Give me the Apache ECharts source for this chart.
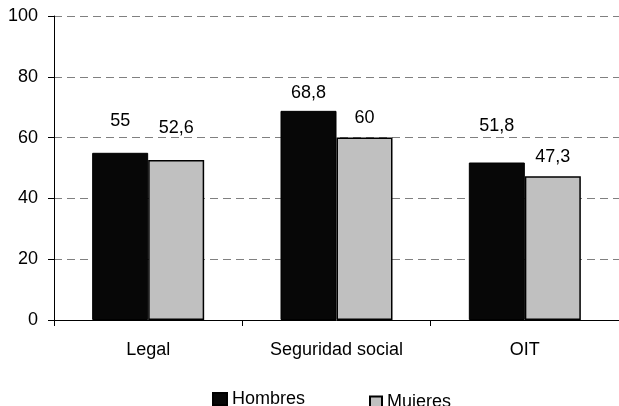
<!DOCTYPE html>
<html>
<head>
<meta charset="utf-8">
<script src="https://cdn.jsdelivr.net/npm/echarts@6/dist/echarts.min.js"></script>
<style>
html,body{margin:0;padding:0;background:#fff;}
#chart{width:619px;height:406px;}
</style>
</head>
<body>
<div id="chart"></div>
<script>
const categories = ['Legal', 'Seguridad social', 'OIT'];
const hombres = [55, 68.8, 51.8];
const mujeres = [52.6, 60, 47.3];
const yTicks = [0, 20, 40, 60, 80, 100];
const seriesNames = ['Hombres', 'Mujeres'];

const hombresLabelGap = [23, 9, 27];
const mujeresLabelGap = [23, 11, 10];

const fmt = v => String(v).replace('.', ',');
const FONT = 'Liberation Sans, Arial, sans-serif';
const FS = 18;

function build(values, gaps) {
  return values.map((v, i) => ({
    value: v,
    label: { distance: gaps[i] }
  }));
}

const chart = echarts.init(document.getElementById('chart'));
chart.setOption({
  animation: false,
  backgroundColor: '#ffffff',
  grid: { left: 54, right: -4, top: 16, bottom: 86, containLabel: false },
  legend: [
    {
      data: [seriesNames[0]],
      left: 212, top: 390, padding: 0,
      itemWidth: 14, itemHeight: 12,
      textStyle: { fontFamily: FONT, fontSize: FS, color: '#000' },
      icon: 'rect'
    },
    {
      data: [seriesNames[1]],
      left: 369, top: 393, padding: 0,
      itemWidth: 12, itemHeight: 11,
      textStyle: { fontFamily: FONT, fontSize: FS, color: '#000' },
      icon: 'rect'
    }
  ],
  xAxis: {
    type: 'category',
    data: categories,
    axisLine: { lineStyle: { color: '#000', width: 1 } },
    axisTick: { show: true, length: 6, lineStyle: { color: '#000' } },
    axisLabel: { margin: 21, fontFamily: FONT, fontSize: FS, color: '#000' },
    splitLine: { show: false }
  },
  yAxis: {
    type: 'value',
    min: yTicks[0], max: yTicks[yTicks.length - 1], interval: yTicks[1] - yTicks[0],
    axisLine: { show: true, lineStyle: { color: '#000', width: 1 } },
    axisTick: { show: true, length: 6, lineStyle: { color: '#000' } },
    axisLabel: { margin: 16, fontFamily: FONT, fontSize: FS, color: '#000' },
    splitLine: { show: true, lineStyle: { color: '#808080', type: [8, 5], width: 1.2 } }
  },
  series: [
    {
      name: seriesNames[0],
      type: 'bar',
      data: build(hombres, hombresLabelGap),
      barWidth: 56,
      barGap: '0%',
      itemStyle: { color: '#070707', borderColor: '#000', borderWidth: 1 },
      label: {
        show: true, position: 'top', formatter: p => fmt(p.value),
        fontFamily: FONT, fontSize: FS, color: '#000'
      }
    },
    {
      name: seriesNames[1],
      type: 'bar',
      data: build(mujeres, mujeresLabelGap),
      barWidth: 56,
      itemStyle: { color: '#c0c0c0', borderColor: '#000', borderWidth: 1.5 },
      label: {
        show: true, position: 'top', formatter: p => fmt(p.value),
        fontFamily: FONT, fontSize: FS, color: '#000'
      }
    }
  ]
});
</script>
</body>
</html>
